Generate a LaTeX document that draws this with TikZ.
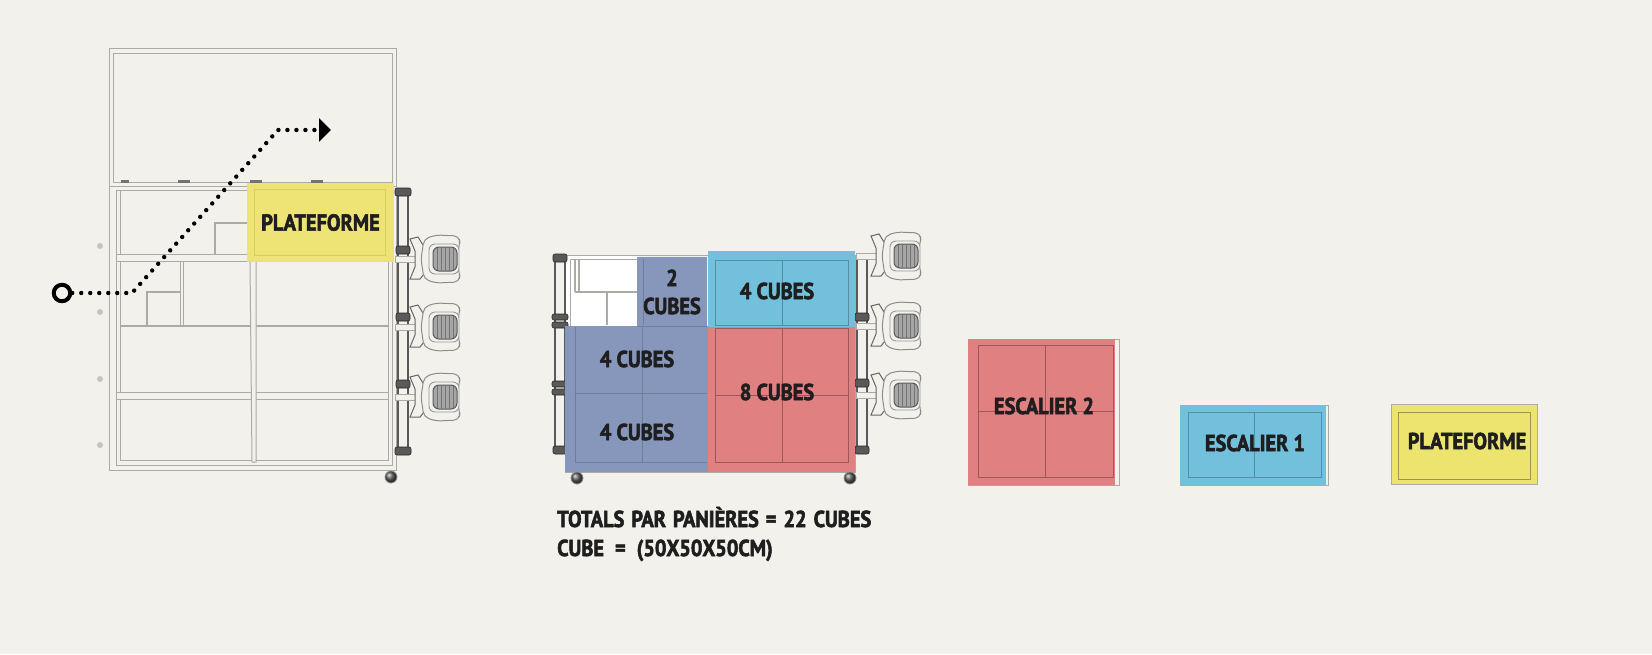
\documentclass[tikz,border=0pt]{standalone}
\usepackage{fontspec}
\setmainfont{PT Sans}[BoldFont={PT Sans Bold},BoldFeatures={FakeStretch=0.885,FakeBold=2.4}]
\usepackage{tikz}
\usetikzlibrary{arrows.meta,positioning,calc}
\definecolor{paper}{HTML}{F2F1EC}
\definecolor{yellowblock}{HTML}{EDE46F}
\definecolor{cyanblock}{HTML}{72C0DC}
\definecolor{blueblock}{HTML}{8797BC}
\definecolor{redblock}{HTML}{E08080}
\definecolor{barline}{HTML}{ABABA6}
\definecolor{ink}{HTML}{1E1E1E}
\begin{document}
\begin{tikzpicture}[
    x=1pt, y=-1pt,
    bar/.style={draw=barline, line width=1pt, fill=paper},
    thin bar/.style={draw=barline, line width=1.4pt},
    rail/.style={draw=black!65, line width=1.2pt, fill=paper},
    block/.style={rectangle, inner sep=0pt, outer sep=0pt, anchor=north west},
    tag/.style={font=\bfseries\fontsize{23}{27}\selectfont, text=ink, inner sep=0pt, align=center},
    total/.style={tag, anchor=base west, align=left, execute at begin node={\spaceskip=#1\relax}},
    inset/.style={line width=0.9pt, opacity=0.85},
    clamp/.style={fill=black!65, draw=black!85, line width=0.6pt, rounded corners=2pt, inner sep=0pt, minimum height=8pt},
    wheel/.style={circle, ball color=black!65, draw=black!45, line width=0.8pt, minimum size=12pt, inner sep=0pt},
    stud/.style={circle, fill=barline!70, minimum size=6pt, inner sep=0pt},
    light/.pic={
        % arm
        \draw[bar] (-47,-3) rectangle (-20,3);
        \draw[draw=black!60, fill=paper, line width=1pt] (-32,-20) -- (-24,-22) -- (-14,-6) -- (-14,10) -- (-22,20) -- (-32,20) -- (-27,8) -- (-27,-8) -- cycle;
        % head
        \draw[draw=black!45, fill=paper, line width=1pt, rounded corners=5pt] (-18,-20) -- (-6,-24) -- (17,-23) -- (18,-15) -- (13,0) -- (18,15) -- (17,23) -- (-6,24) -- (-18,20) -- (-21,0) -- cycle;
        \draw[draw=black!40, fill=paper, line width=0.9pt, rounded corners=6pt] (-13,-15) rectangle (17,15);
        \draw[draw=black!65, fill=black!35, line width=1pt, rounded corners=6pt] (-9,-12) rectangle (15,12);
        \draw[black!55, line width=0.5pt] (-5,-11) -- (-5,11) (-1,-12) -- (-1,12) (3,-12) -- (3,12) (7,-12) -- (7,12) (11,-11) -- (11,11);
    }
]
\useasboundingbox[fill=paper] (0,0) rectangle (1652,654);

% Left frame, upper panel
\draw[bar] (109,48) rectangle (396,187);
\draw[bar] (113,53) rectangle (392,182);
\node[block, fill=black!55, minimum width=8pt, minimum height=3pt] (nub_a) at (121,180) {};
\node[block, fill=black!55, minimum width=12pt, minimum height=3pt] (nub_b) at (178,180) {};
\node[block, fill=black!55, minimum width=12pt, minimum height=3pt] (nub_c) at (250,180) {};
\node[block, fill=black!55, minimum width=12pt, minimum height=3pt] (nub_d) at (311,180) {};

% Left frame, lower part
\draw[bar] (109,186) rectangle (396,470);
\draw[bar] (116,190) rectangle (392,465);
\draw[bar] (120,190) rectangle (388,460);
\draw[bar] (116,254) rectangle (388,261);
\draw[thin bar] (120,326) -- (388,326);
\draw[bar] (116,392) rectangle (388,399);
\draw[bar] (250,261) -- (256,261) -- (256,462) -- (252,462) -- cycle;
\draw[bar] (180,261) rectangle (183,325);
\draw[thin bar] (147,325) |- (180,292);
\draw[thin bar] (215,254) |- (248,223);

% Left studs
\node[stud] (stud_a) at (100,246) {};
\node[stud] (stud_b) at (100,312) {};
\node[stud] (stud_c) at (100,379) {};
\node[stud] (stud_d) at (100,445) {};

% Left truss
\draw[rail] (398,192) rectangle (408,451);
\node[clamp, minimum width=16pt] (clamp_a) at (403,192) {};
\node[clamp, minimum width=14pt] (clamp_b) at (403,250) {};
\node[clamp, minimum width=14pt] (clamp_c) at (403,317) {};
\node[clamp, minimum width=14pt] (clamp_d) at (403,384) {};
\node[clamp, minimum width=16pt] (clamp_e) at (403,451) {};

% Left lights
\pic at (442,259) {light};
\pic at (442,327) {light};
\pic at (442,397) {light};

\node[wheel] (wheel_left) at (391,477) {};

% Yellow block on the left frame
\node[block, fill=yellowblock, opacity=0.95, minimum width=147pt, minimum height=79pt] (plat_a) at (247,183) {};
\draw[inset, draw=yellowblock!88!black] (254,189) rectangle (385,255);
\node[tag] at ($(plat_a.center)+(0,0)$) {PLATEFORME};

% Dotted path
\node[circle, draw=black, line width=4pt, fill=paper, minimum size=16.5pt, inner sep=0pt] (start) at (62,293) {};
\coordinate (bend_a) at (132,293);
\coordinate (bend_b) at (278,130);
\coordinate (stop) at (331,130);
\draw[line width=4.4pt, line cap=round, dash pattern=on 0pt off 9pt, -{Triangle[length=12pt,width=23pt]}] (start) -- (bend_a) -- (bend_b) -- (stop);

% Middle frame
\draw[bar] (565,255) rectangle (855,472);
\node[block, fill=white, minimum width=72pt, minimum height=70pt] (blank) at (566,256) {};
\draw[bar] (570,259) -- (637,259) (570,259) -- (570,327);
\draw[thin bar] (575,259) -- (575,292);
\draw[thin bar] (579,259) -- (579,292);
\draw[thin bar] (575,292) -- (637,292);
\draw[thin bar] (607,292) -- (607,325);

% Middle trusses
\draw[rail] (555,258) rectangle (565,450);
\draw[rail] (857,258) rectangle (867,450);
\node[clamp, minimum width=14pt] (clamp_f) at (560,258) {};
\node[clamp, minimum width=16pt, minimum height=6pt] (clamp_g) at (560,317) {};
\node[clamp, minimum width=16pt, minimum height=6pt] (clamp_h) at (560,325) {};
\node[clamp, minimum width=16pt, minimum height=6pt] (clamp_i) at (560,384) {};
\node[clamp, minimum width=16pt, minimum height=6pt] (clamp_j) at (560,392) {};
\node[clamp, minimum width=14pt] (clamp_k) at (560,450) {};
\node[clamp, minimum width=14pt] (clamp_l) at (862,317) {};
\node[clamp, minimum width=14pt] (clamp_m) at (862,383) {};
\node[clamp, minimum width=14pt] (clamp_n) at (862,450) {};

% Middle lights
\pic at (903,256) {light};
\pic at (903,326) {light};
\pic at (903,395) {light};

\node[wheel] (wheel_b) at (577,478) {};
\node[wheel] (wheel_c) at (850,478) {};

% Blue blocks
\node[block, fill=blueblock, minimum width=70pt, minimum height=70pt] (blue_two) at (637,257) {};
\node[block, fill=blueblock, minimum width=143pt, minimum height=146pt] (blue_four) at (565,326) {};
\draw[inset, draw=blueblock!80!black] (643,259) -- (643,325) (637,326) -- (707,326);
\draw[inset, draw=blueblock!80!black] (575,327) -- (575,462) -- (707,462);
\draw[inset, draw=blueblock!80!black] (575,393) -- (707,393) (642,327) -- (642,462);

% Cyan and red blocks
\node[block, fill=cyanblock, minimum width=147pt, minimum height=76pt] (cyan_four) at (708,251) {};
\draw[inset, draw=cyanblock!70!black] (715,260) rectangle (848,325) (782,260) -- (782,325);
\node[block, fill=redblock, minimum width=147pt, minimum height=145pt] (red_eight) at (708,327) {};
\draw[inset, draw=redblock!65!black] (715,328) rectangle (848,462) (782,328) -- (782,462) (715,395) -- (848,395);

% Cube counts
\node[tag] at (672,292) {2\\[1pt]CUBES};
\node[tag] at (637,359) {4 CUBES};
\node[tag] at (637,432) {4 CUBES};
\node[tag] at (777,291) {4 CUBES};
\node[tag] at (777,392) {8 CUBES};

\node[total=7pt] (totals) at (557,527) {TOTALS PAR PANIÈRES = 22 CUBES};
\node[total=11pt] (cube) at (557,556) {CUBE = (50X50X50CM)};

% Separate pieces
\draw[bar] (968,339) rectangle (1119,485);
\node[block, fill=redblock, minimum width=147pt, minimum height=146pt] (esc_two) at (968,339) {};
\draw[inset, draw=redblock!65!black] (978,345) rectangle (1113,477) (1045,345) -- (1045,477) (978,411) -- (1113,411);
\node[tag] at (1044,406) {ESCALIER 2};

\draw[bar] (1180,405) rectangle (1328,485);
\node[block, fill=cyanblock, minimum width=146pt, minimum height=80pt] (esc_one) at (1180,405) {};
\draw[inset, draw=cyanblock!70!black] (1188,412) rectangle (1321,477) (1254,412) -- (1254,477);
\node[tag] at (1255,443) {ESCALIER 1};

\node[block, fill=yellowblock, draw=barline, line width=0.6pt, minimum width=146pt, minimum height=80pt] (plat_b) at (1391,404) {};
\draw[inset, draw=yellowblock!60!black] (1398,412) rectangle (1530,479);
\node[tag] at (1467,441) {PLATEFORME};

\end{tikzpicture}
\end{document}
